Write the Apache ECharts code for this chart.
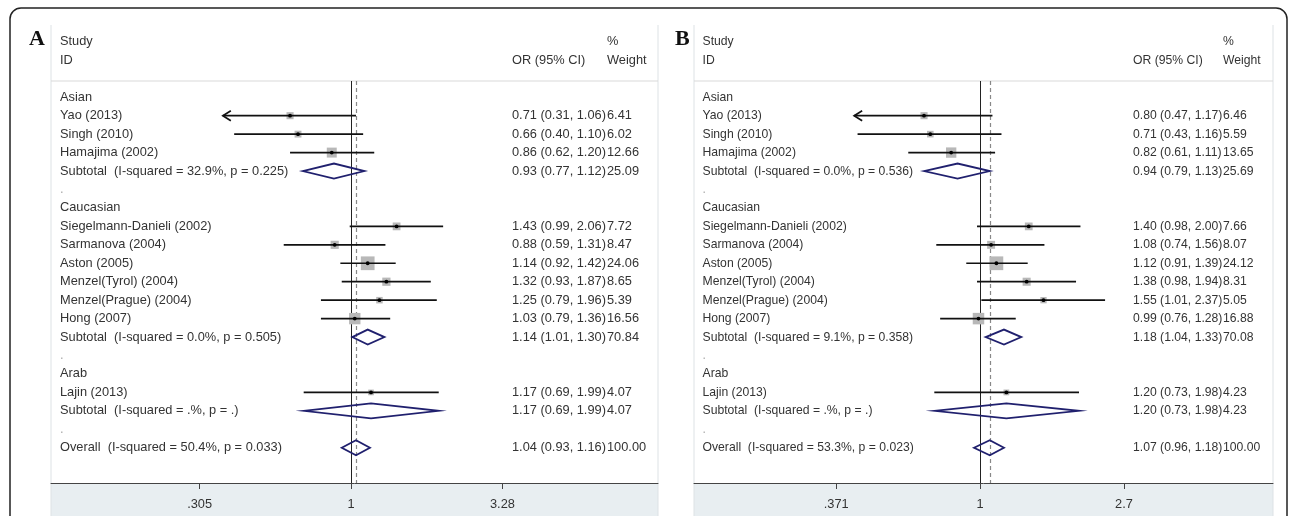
<!DOCTYPE html>
<html><head><meta charset="utf-8">
<script src="https://cdn.jsdelivr.net/npm/echarts@6/dist/echarts.min.js"></script>
<style>html,body{margin:0;padding:0;background:#fff}#c{width:1290px;height:516px}</style>
</head><body><div id="c"></div>
<script>
// ---------- data ----------
const headerLeft = ['Study', 'ID'];
const headerMid = ['', 'OR (95% CI)'];
const headerRight = ['%', 'Weight'];

// row kinds: g = group heading, s = study, d = subtotal, b = blank, o = overall
const rowKinds = ['g','s','s','s','d','b','g','s','s','s','s','s','s','d','b','g','s','d','b','o'];

const labelsA = ['Asian','Yao (2013)','Singh (2010)','Hamajima (2002)','Subtotal  (I-squared = 32.9%, p = 0.225)','.',
  'Caucasian','Siegelmann-Danieli (2002)','Sarmanova (2004)','Aston (2005)','Menzel(Tyrol) (2004)','Menzel(Prague) (2004)','Hong (2007)',
  'Subtotal  (I-squared = 0.0%, p = 0.505)','.','Arab','Lajin (2013)','Subtotal  (I-squared = .%, p = .)','.','Overall  (I-squared = 50.4%, p = 0.033)'];
const ciTextA = ['','0.71 (0.31, 1.06)','0.66 (0.40, 1.10)','0.86 (0.62, 1.20)','0.93 (0.77, 1.12)','',
  '','1.43 (0.99, 2.06)','0.88 (0.59, 1.31)','1.14 (0.92, 1.42)','1.32 (0.93, 1.87)','1.25 (0.79, 1.96)','1.03 (0.79, 1.36)',
  '1.14 (1.01, 1.30)','','','1.17 (0.69, 1.99)','1.17 (0.69, 1.99)','','1.04 (0.93, 1.16)'];
const weightA = [null,6.41,6.02,12.66,25.09,null,null,7.72,8.47,24.06,8.65,5.39,16.56,70.84,null,null,4.07,4.07,null,100.00];
// plotted positions
const estA = [null,0.62,0.66,0.86,0.875,null,null,1.43,0.88,1.14,1.32,1.25,1.03,1.14,null,null,1.17,1.17,null,1.04];
const loA  = [null,0.366,0.40,0.62,0.685,null,null,0.99,0.59,0.92,0.93,0.79,0.79,1.01,null,null,0.69,0.69,null,0.93];
const hiA  = [null,1.04,1.10,1.20,1.11,null,null,2.06,1.31,1.42,1.87,1.96,1.36,1.30,null,null,1.99,1.99,null,1.16];
const arrowRowsA = [1];
const tickValsA = [0.305, 1, 3.28];
const tickLabelsA = ['.305', '1', '3.28'];

const labelsB = ['Asian','Yao (2013)','Singh (2010)','Hamajima (2002)','Subtotal  (I-squared = 0.0%, p = 0.536)','.',
  'Caucasian','Siegelmann-Danieli (2002)','Sarmanova (2004)','Aston (2005)','Menzel(Tyrol) (2004)','Menzel(Prague) (2004)','Hong (2007)',
  'Subtotal  (I-squared = 9.1%, p = 0.358)','.','Arab','Lajin (2013)','Subtotal  (I-squared = .%, p = .)','.','Overall  (I-squared = 53.3%, p = 0.023)'];
const ciTextB = ['','0.80 (0.47, 1.17)','0.71 (0.43, 1.16)','0.82 (0.61, 1.11)','0.94 (0.79, 1.13)','',
  '','1.40 (0.98, 2.00)','1.08 (0.74, 1.56)','1.12 (0.91, 1.39)','1.38 (0.98, 1.94)','1.55 (1.01, 2.37)','0.99 (0.76, 1.28)',
  '1.18 (1.04, 1.33)','','','1.20 (0.73, 1.98)','1.20 (0.73, 1.98)','','1.07 (0.96, 1.18)'];
const weightB = [null,6.46,5.59,13.65,25.69,null,null,7.66,8.07,24.12,8.31,5.05,16.88,70.08,null,null,4.23,4.23,null,100.00];
const estB = [null,0.68,0.71,0.82,0.857,null,null,1.40,1.08,1.12,1.38,1.55,0.99,1.18,null,null,1.20,1.20,null,1.07];
const loB  = [null,0.42,0.43,0.61,0.68,null,null,0.98,0.74,0.91,0.98,1.01,0.76,1.04,null,null,0.73,0.73,null,0.96];
const hiB  = [null,1.09,1.16,1.11,1.07,null,null,2.00,1.56,1.39,1.94,2.37,1.28,1.33,null,null,1.98,1.98,null,1.18];
const arrowRowsB = [1];
const tickValsB = [0.371, 1, 2.7];
const tickLabelsB = ['.371', '1', '2.7'];

// ---------- layout ----------
const FONT = '12.8px "Liberation Sans", Arial, Helvetica, sans-serif';
const TXT = '#333';
const NAVY = '#20206e';
const GRID_TOP = 81, GRID_H = 402;
const panels = [
  {letter:'A', letterX:29, left:51, right:658, xMin:-2.353, xMax:2.408, sx:1, labelX:60, orX:512, wX:607,
   labels:labelsA, ci:ciTextA, w:weightA, est:estA, lo:loA, hi:hiA, arrows:arrowRowsA, tv:tickValsA, tl:tickLabelsA},
  {letter:'B', letterX:675, left:694, right:1273, xMin:-1.972, xMax:2.021, sx:0.952, labelX:702.5, orX:1133, wX:1223,
   labels:labelsB, ci:ciTextB, w:weightB, est:estB, lo:loB, hi:hiB, arrows:arrowRowsB, tv:tickValsB, tl:tickLabelsB}
];

function txt(x, y, s, sx, color) {
  return {type:'text', x:x, y:y, scaleX:sx, style:{text:s, x:0, y:0, fill:color||TXT, font:FONT, align:'left', verticalAlign:'middle'}};
}

function rowRenderer(P) {
  return function(params, api) {
    const i = params.dataIndex;
    const y = api.coord([0, api.value(1)])[1];
    const kind = rowKinds[i];
    const ch = [];
    ch.push(txt(P.labelX, y, P.labels[i], P.sx, kind === 'b' ? '#aaa' : TXT));
    if (P.ci[i]) ch.push(txt(P.orX, y, P.ci[i], P.sx));
    if (P.w[i] != null) ch.push(txt(P.wX, y, P.w[i].toFixed(2), P.sx));
    if (P.est[i] != null) {
      const xe = api.coord([Math.log(P.est[i]), i])[0];
      const xl = api.coord([Math.log(P.lo[i]), i])[0];
      const xh = api.coord([Math.log(P.hi[i]), i])[0];
      if (kind === 's') {
        const side = 2.8 * Math.sqrt(P.w[i]);
        ch.push({type:'rect', shape:{x:xe-side/2, y:y-side/2, width:side, height:side}, style:{fill:'#b8b8b8'}});
        ch.push({type:'line', shape:{x1:xl, y1:y, x2:xh, y2:y}, style:{stroke:'#111', lineWidth:1.7}});
        if (P.arrows.indexOf(i) >= 0) {
          ch.push({type:'polyline', shape:{points:[[xl+8,y-5],[xl,y],[xl+8,y+5]]}, style:{stroke:'#111', lineWidth:1.7, fill:null}});
        }
        ch.push({type:'circle', shape:{cx:xe, cy:y, r:1.9}, style:{fill:'#000'}});
      } else {
        ch.push({type:'polygon', shape:{points:[[xl,y],[xe,y-7.5],[xh,y],[xe,y+7.5]]}, style:{stroke:NAVY, lineWidth:1.8, fill:null}});
      }
    }
    return {type:'group', children:ch};
  };
}

function headerRenderer(P) {
  return function(params, api) {
    const j = params.dataIndex;
    const y = api.coord([0, api.value(1)])[1];
    const ch = [txt(P.labelX, y, headerLeft[j], P.sx)];
    if (headerMid[j]) ch.push(txt(P.orX, y, headerMid[j], P.sx));
    ch.push(txt(P.wX, y, headerRight[j], P.sx));
    return {type:'group', children:ch};
  };
}

const grids = [], xAxes = [], yAxes = [], series = [], graphics = [];
panels.forEach((P, g) => {
  grids.push({left:P.left, top:GRID_TOP, width:P.right-P.left, height:GRID_H, containLabel:false});
  const tvLn = P.tv.map(v => Math.log(v));
  xAxes.push({type:'value', gridIndex:g, min:P.xMin, max:P.xMax,
    axisLine:{show:true, onZero:false, lineStyle:{color:'#444', width:1}},
    axisTick:{show:true, customValues:tvLn, length:6, lineStyle:{color:'#444'}},
    axisLabel:{show:true, customValues:tvLn, color:TXT, fontSize:12.8, fontFamily:'"Liberation Sans", Arial, sans-serif', margin:15,
      formatter: v => { const k = tvLn.findIndex(t => Math.abs(t - v) < 1e-6); return k >= 0 ? P.tl[k] : ''; }},
    splitLine:{show:false}});
  yAxes.push({type:'value', gridIndex:g, min:-0.88, max:20.91, inverse:true, show:false});
  const overall = P.est[P.est.length-1];
  series.push({type:'custom', xAxisIndex:g, yAxisIndex:g, clip:false, z:5,
    data: rowKinds.map((k, i) => [0, i]),
    renderItem: rowRenderer(P),
    markLine:{silent:true, symbol:['none','none'], label:{show:false}, animation:false,
      data:[{xAxis:0, lineStyle:{color:'#222', type:'solid', width:1}},
            {xAxis:Math.log(overall), lineStyle:{color:'#888', type:[4,3], width:1.2}}]}});
  series.push({type:'custom', xAxisIndex:g, yAxisIndex:g, clip:false, z:5,
    data:[[0,-3],[0,-2]], renderItem: headerRenderer(P)});
  // panel decorations
  graphics.push({type:'rect', z:-10, shape:{x:P.left, y:GRID_TOP+GRID_H, width:P.right-P.left, height:40}, style:{fill:'#e8eef1'}});
  graphics.push({type:'line', z:-5, shape:{x1:P.left, y1:25, x2:P.left, y2:516}, style:{stroke:'#dde2e5', lineWidth:1}});
  graphics.push({type:'line', z:-5, shape:{x1:P.right, y1:25, x2:P.right, y2:516}, style:{stroke:'#dde2e5', lineWidth:1}});
  graphics.push({type:'line', z:-5, shape:{x1:P.left, y1:GRID_TOP, x2:P.right, y2:GRID_TOP}, style:{stroke:'#d9d9d9', lineWidth:1}});
  graphics.push({type:'text', z:10, style:{text:P.letter, x:P.letterX, y:39, fill:'#111',
    font:'bold 22px "Liberation Serif", "Times New Roman", serif', verticalAlign:'middle', align:'left'}});
});
graphics.push({type:'rect', z:-20, shape:{x:10, y:8, width:1277, height:600, r:11}, style:{fill:'none', stroke:'#222', lineWidth:1.5}});

const chart = echarts.init(document.getElementById('c'), null, {renderer:'canvas'});
chart.setOption({
  animation:false,
  backgroundColor:'#ffffff',
  grid:grids, xAxis:xAxes, yAxis:yAxes, series:series,
  graphic:{elements:graphics}
});
</script>
</body></html>
